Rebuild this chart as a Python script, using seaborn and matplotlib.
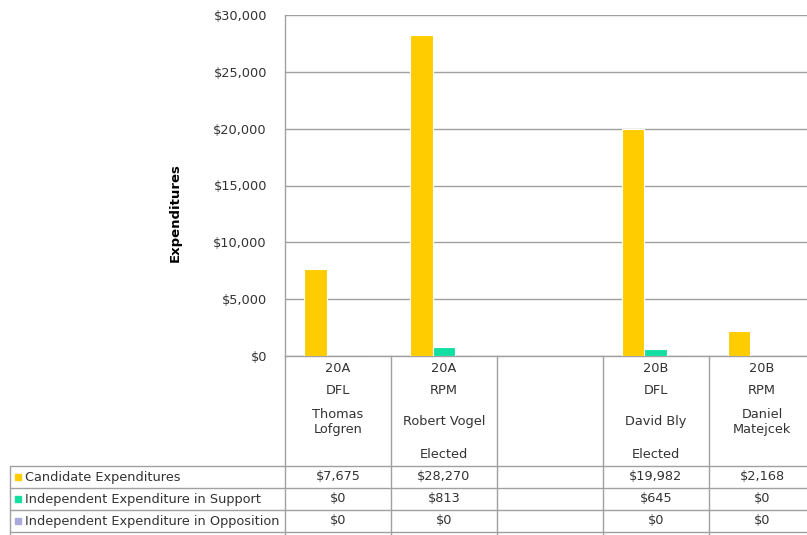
import numpy as np
import pandas as pd
import matplotlib
matplotlib.use("Agg")
import matplotlib.pyplot as plt
import matplotlib.transforms as mtransforms
import seaborn as sns

# Chart data (one slot per candidate, the empty slot separates the districts)
slots = ["Thomas Lofgren", "Robert Vogel", "(gap)", "David Bly", "Daniel Matejcek"]
districts = ["20A", "20A", "", "20B", "20B"]
parties = ["DFL", "RPM", "", "DFL", "RPM"]
name_labels = ["Thomas\nLofgren", "Robert Vogel", "", "David Bly", "Daniel\nMatejcek"]
status = ["", "Elected", "", "Elected", ""]

series = ["Candidate Expenditures",
          "Independent Expenditure in Support",
          "Independent Expenditure in Opposition"]
candidate_exp = [7675, 28270, None, 19982, 2168]
support_exp = [0, 813, None, 645, 0]
opposition_exp = [0, 0, None, 0, 0]

yticks = [0, 5000, 10000, 15000, 20000, 25000, 30000]
colors = ["#FFCC00", "#14DFA2", "#A9A9E0"]

rows = []
for name, vals in zip(series, [candidate_exp, support_exp, opposition_exp]):
    for slot, v in zip(slots, vals):
        if v is not None:
            rows.append({"slot": slot, "series": name, "value": v})
df = pd.DataFrame(rows)

sns.set_style("white")
plt.rcParams["font.family"] = ["DejaVu Sans"]
text_color = "#333333"
line_color = "#A0A0A0"
fs = 9.3

W, H = 807, 535
fig = plt.figure(figsize=(W / 100, H / 100), dpi=100)

def fy(py):
    return 1 - py / H

def fx(px):
    return px / W

ax_left, ax_right, ax_top, ax_bottom = 285, 807, 15, 356
ax = fig.add_axes([fx(ax_left), fy(ax_bottom), fx(ax_right - ax_left), (ax_bottom - ax_top) / H])

sns.barplot(data=df, x="slot", y="value", hue="series", order=slots,
            hue_order=series, palette=colors, saturation=1, width=0.65, gap=0,
            edgecolor="white", linewidth=0.8, ax=ax, legend=False, zorder=3)

ax.set_ylim(0, 30000)
ax.set_xlim(-0.5, 4.425)
ax.set_yticks(yticks)
ax.set_yticklabels([f"${v:,.0f}" for v in yticks], fontsize=fs, color=text_color)
ax.set_xticks([])
ax.set_xlabel("")
ax.set_ylabel("")
ax.grid(axis="y", color=line_color, linewidth=1, zorder=0)
ax.tick_params(axis="y", length=0, pad=13)
for side in ["top", "right"]:
    ax.spines[side].set_visible(False)
for side in ["left", "bottom"]:
    ax.spines[side].set_color(line_color)
    ax.spines[side].set_linewidth(1)

fig.text(fx(175), fy(213), "Expenditures", rotation=90, ha="center", va="center",
         fontsize=9.5, fontweight="bold", color="black")

# Data table below the plot
trans = mtransforms.blended_transform_factory(ax.transData, fig.transFigure)
row_lines = [466, 488, 510, 532]
for py in row_lines:
    fig.add_artist(plt.Line2D([fx(10), 1], [fy(py), fy(py)], color=line_color, lw=1))
fig.add_artist(plt.Line2D([fx(10), fx(10)], [fy(466), 0], color=line_color, lw=1))
fig.add_artist(plt.Line2D([fx(285), fx(285)], [fy(356), 0], color=line_color, lw=1))
for i in range(len(slots) - 1):
    ax.add_line(plt.Line2D([i + 0.5, i + 0.5], [fy(356), 0], transform=trans,
                           color=line_color, lw=1, clip_on=False))

for i in range(len(slots)):
    ax.text(i, fy(368), districts[i], transform=trans, ha="center", va="center",
            fontsize=fs, color=text_color)
    ax.text(i, fy(391), parties[i], transform=trans, ha="center", va="center",
            fontsize=fs, color=text_color)
    ax.text(i, fy(422), name_labels[i], transform=trans, ha="center", va="center",
            fontsize=fs, color=text_color, linespacing=1.1)
    ax.text(i, fy(455), status[i], transform=trans, ha="center", va="center",
            fontsize=fs, color=text_color)

value_rows = [candidate_exp, support_exp, opposition_exp]
row_centers = [477, 499, 521]
for name, col, vals, py in zip(series, colors, value_rows, row_centers):
    fig.add_artist(plt.Rectangle((fx(15), fy(py + 3)), fx(6), 6 / H, color=col,
                                 transform=fig.transFigure))
    fig.text(fx(25), fy(py), name, ha="left", va="center", fontsize=fs, color=text_color)
    for i, v in enumerate(vals):
        if v is not None:
            ax.text(i, fy(py), f"${v:,.0f}", transform=trans, ha="center", va="center",
                    fontsize=fs, color=text_color)

fig.savefig("out.png", dpi=100)
